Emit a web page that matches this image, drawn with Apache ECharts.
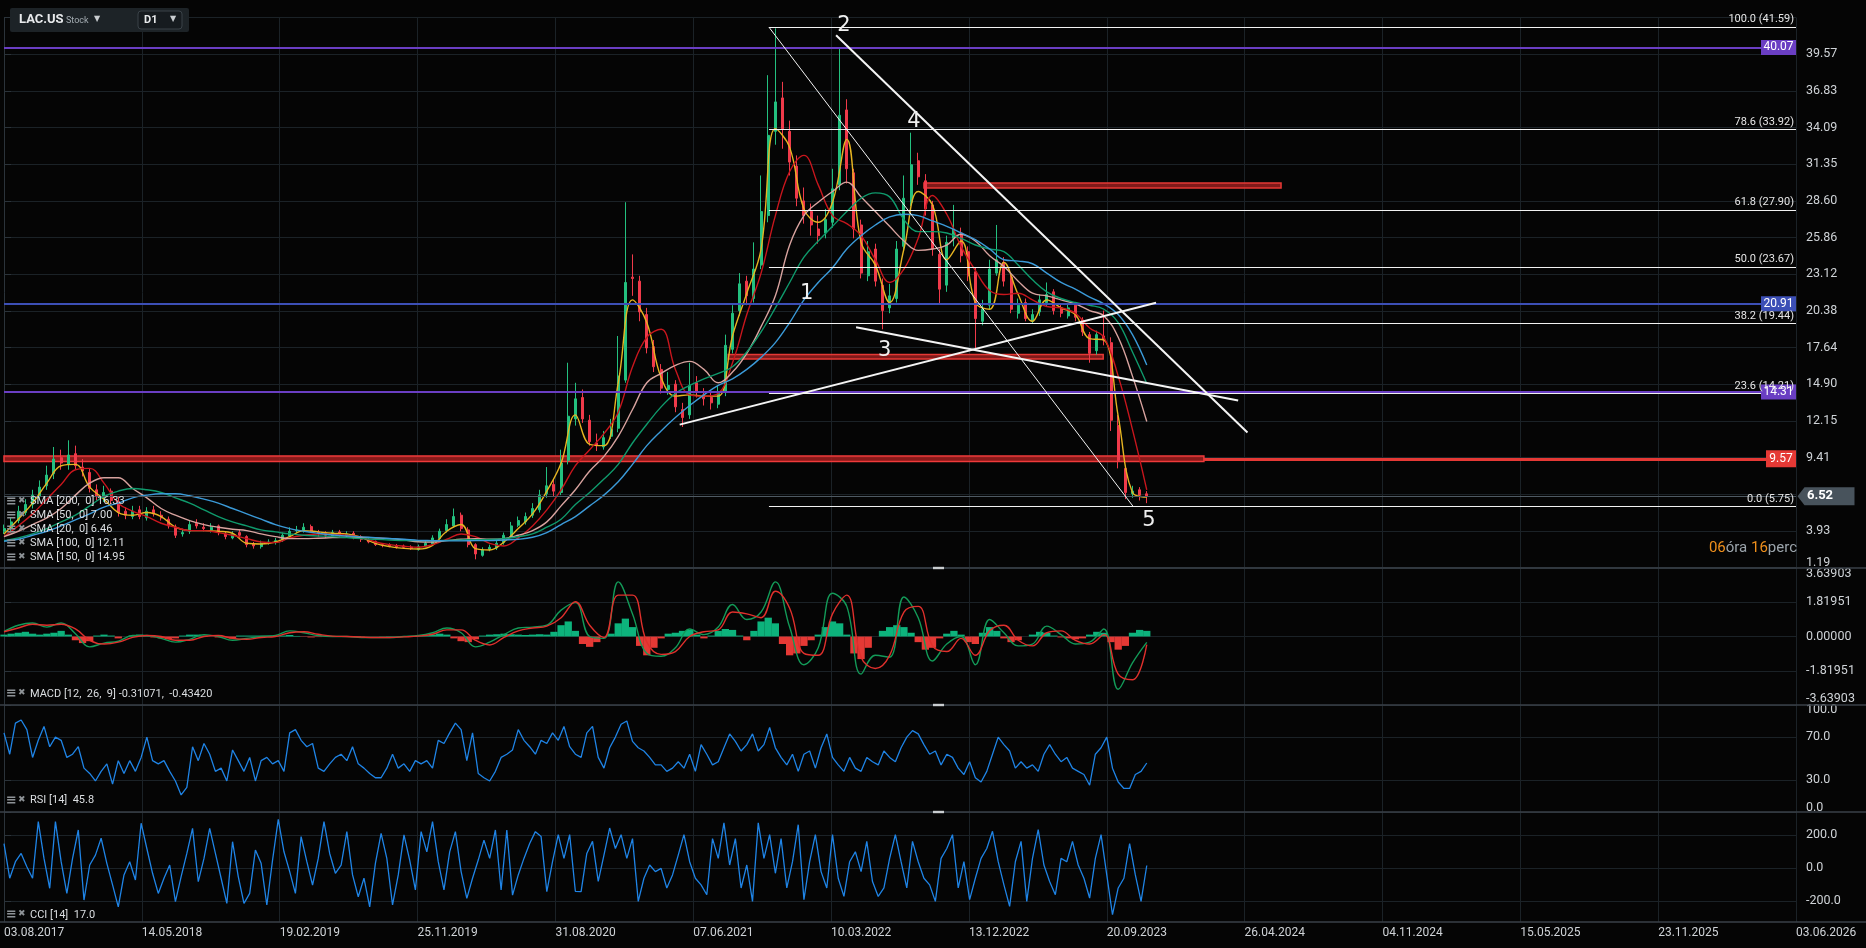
<!DOCTYPE html>
<html><head><meta charset="utf-8">
<script src="https://cdn.jsdelivr.net/npm/echarts@6/dist/echarts.min.js"></script>
<style>html,body{margin:0;padding:0;background:#050505;}#c{width:1866px;height:948px;}</style>
</head><body><div id="c"></div>
<script>
// ---------- DATA ----------
const dateLabels = ['03.08.2017','14.05.2018','19.02.2019','25.11.2019','31.08.2020','07.06.2021','10.03.2022','13.12.2022','20.09.2023','26.04.2024','04.11.2024','15.05.2025','23.11.2025','03.06.2026'];
const barsPerLabel = 193;
const candleStep = 10;
const opens = [3.9,4.1,4.7,5.3,5.9,6.5,7.3,8.2,9.4,8.9,9.7,8.7,8.3,7.0,6.4,6.9,6.1,5.4,5.0,5.5,
4.9,5.5,5.1,4.8,4.2,3.7,3.9,4.5,4.2,4.0,4.3,3.7,3.4,3.8,3.5,2.95,2.75,3.05,3.05,3.25,
3.55,3.95,3.95,4.25,3.85,3.75,3.55,3.85,3.55,3.75,3.45,3.25,3.15,2.9,2.9,2.8,2.8,2.72,2.55,2.8,
2.95,3.35,3.95,4.3,5.1,4.0,2.9,2.1,2.55,2.65,3.05,3.5,4.35,4.6,5.1,5.5,6.7,7.4,6.8,9.2,
12.3,13.9,12.2,10.5,10.2,11.0,11.6,15.2,22.9,22.6,20.1,17.7,16.0,14.5,14.9,13.0,12.6,15.0,14.1,13.9,
13.4,14.3,17.5,20.4,22.6,21.3,23.8,27.5,33.8,36.3,33.8,31.2,28.6,27.8,26.5,26.2,27.0,29.8,35.4,30.7,
26.8,23.0,25.0,22.3,20.6,21.3,25.2,28.5,31.6,30.1,28.3,24.6,22.3,25.8,26.2,24.8,23.3,19.6,20.8,23.2,
24.0,22.9,20.2,21.0,19.6,20.3,21.0,21.8,20.6,20.0,20.8,19.7,18.6,17.4,18.5,18.0,11.8,8.6,6.7,7.0,6.7];
const closes = [4.1,4.6,5.4,5.9,6.6,7.2,8.1,9.3,9.0,9.6,8.8,8.4,7.1,6.5,6.8,6.2,5.3,5.1,5.4,5.0,
5.4,5.2,4.9,4.3,3.6,3.8,4.4,4.3,4.1,4.2,3.8,3.5,3.7,3.6,2.9,2.8,3.0,3.1,3.2,3.6,
3.9,4.0,4.2,3.9,3.7,3.6,3.8,3.6,3.7,3.4,3.3,3.1,2.9,2.85,2.8,2.75,2.7,2.6,2.75,3.0,
3.4,3.9,4.4,5.0,4.1,2.9,2.2,2.5,2.7,3.0,3.6,4.3,4.7,5.0,5.6,6.6,7.3,6.9,9.0,12.5,
13.8,12.3,10.6,10.3,10.9,11.5,15.5,22.5,22.8,20.3,17.6,16.2,14.6,14.8,13.2,12.4,14.8,14.3,13.8,13.5,
14.2,17.8,20.2,22.4,21.5,23.5,27.8,33.5,36.0,34.0,31.5,28.8,27.5,26.8,26.0,27.2,29.5,35.0,31.0,26.5,
23.2,24.8,22.6,20.4,21.5,25.0,28.8,31.3,30.4,28.0,25.0,22.0,25.5,26.5,24.5,23.0,19.8,20.5,23.5,24.2,
22.6,20.5,20.8,19.8,20.1,21.2,21.6,20.4,20.2,20.6,19.9,18.8,17.2,18.6,18.2,12.2,9.2,6.8,6.9,6.6,6.52];
const highs = [4.4,4.9,5.8,6.3,7.0,7.7,8.8,10.2,10.0,10.7,10.3,9.3,8.6,7.4,7.3,7.1,6.5,5.7,5.8,5.8,
5.7,5.8,5.4,5.0,4.4,4.1,4.7,4.8,4.5,4.5,4.4,3.9,3.9,4.0,3.6,3.1,3.2,3.3,3.4,3.8,
4.2,4.3,4.5,4.4,4.0,3.9,4.0,4.0,3.9,3.9,3.6,3.4,3.2,3.0,3.0,2.95,2.9,2.85,2.9,3.2,
3.6,4.1,4.8,5.6,5.3,4.2,3.0,2.7,2.9,3.2,3.8,4.6,5.0,5.3,6.0,7.0,8.7,7.8,10.0,16.5,
15.0,14.5,12.6,11.2,11.4,12.3,18.5,28.5,24.6,23.0,20.6,18.2,16.4,15.8,15.2,13.5,16.5,15.5,14.6,14.4,
14.8,18.6,20.8,23.2,23.0,25.5,30.5,38.0,41.5,37.5,34.6,32.0,29.6,28.4,27.5,28.0,31.0,40.0,36.2,31.0,
27.2,25.6,25.4,22.8,22.4,25.6,30.5,33.7,32.2,30.6,28.6,25.0,26.0,28.3,26.6,25.2,23.6,21.2,24.2,26.8,
24.4,23.2,21.3,21.3,20.5,21.6,22.5,22.0,20.9,20.9,21.0,19.9,18.8,18.9,20.4,18.4,12.6,8.8,7.3,7.2,6.9];
const lows = [3.7,3.9,4.5,5.1,5.6,6.2,7.0,7.8,8.5,8.5,8.5,8.0,6.8,6.2,6.1,5.9,5.0,4.8,4.8,4.8,
4.7,5.0,4.7,4.1,3.4,3.5,3.7,4.1,3.9,3.8,3.6,3.3,3.3,3.4,2.7,2.6,2.6,2.9,2.9,3.1,
3.4,3.8,3.8,3.8,3.5,3.4,3.4,3.5,3.4,3.3,3.1,3.0,2.8,2.7,2.7,2.6,2.6,2.5,2.45,2.7,
2.8,3.2,3.8,4.2,3.9,2.7,1.8,2.0,2.4,2.5,2.9,3.4,4.2,4.4,4.9,5.3,6.4,6.5,6.6,8.9,
11.8,12.0,10.3,9.9,10.0,10.8,11.3,15.0,21.5,19.6,17.2,15.8,14.2,14.1,12.8,11.7,12.3,13.9,13.3,13.0,
13.1,14.0,17.2,20.0,20.8,21.0,23.5,27.0,32.8,32.5,30.5,28.2,26.9,26.0,25.4,25.8,26.6,29.4,29.9,25.8,
22.8,22.6,22.2,19.0,20.2,21.0,24.8,28.2,29.8,27.5,24.5,20.9,21.8,25.2,24.0,22.6,17.4,19.3,20.5,23.0,
22.2,20.2,19.8,19.6,19.4,20.0,20.7,20.1,19.9,19.8,19.6,18.5,16.5,17.1,17.8,11.4,8.6,6.3,6.4,6.2,6.0];

const smaStep = 20;
const sma20 = [3.7,4.8,6.0,7.5,8.8,8.9,7.2,6.3,5.3,5.1,
5.3,5.0,4.2,3.95,3.95,3.9,3.75,3.0,2.95,3.1,
3.5,3.95,3.85,3.75,3.7,3.45,3.0,2.75,2.62,2.57,
2.85,3.9,4.4,2.6,2.5,3.1,4.1,5.2,6.9,9.0,
12.6,10.4,10.3,15.0,21.2,19.5,15.4,14.0,14.1,14.0,
14.0,18.5,21.7,25.0,34.0,32.6,28.0,27.0,28.5,33.2,
25.5,23.8,21.0,25.0,29.3,28.3,24.2,25.6,21.0,20.5,
24.0,21.6,19.6,21.2,20.6,20.1,18.3,18.2,12.5,6.8,
6.46];
const sma50 = [3.5,4.3,5.2,6.3,7.4,8.5,8.6,7.5,6.0,5.4,
5.0,4.5,4.2,3.95,3.95,3.8,3.6,3.35,3.1,3.05,
3.4,3.6,3.7,3.65,3.6,3.45,3.1,2.9,2.78,2.7,
2.9,3.3,3.7,3.5,3.0,2.8,3.4,4.3,5.5,7.0,
8.8,10.0,11.2,12.8,16.2,18.4,19.0,16.0,14.1,14.0,
14.2,16.5,20.1,23.2,27.5,30.8,32.0,29.8,27.5,26.9,
26.0,24.2,22.5,23.5,25.8,29.0,27.6,25.2,23.4,21.9,
21.6,21.7,21.2,20.7,20.6,20.2,19.1,18.4,15.5,11.5,
7.00];
const sma100 = [3.5,3.9,4.4,4.9,5.6,6.6,7.5,7.9,7.9,7.1,
6.4,5.6,5.1,4.7,4.4,4.2,4.05,3.95,3.7,3.5,
3.35,3.35,3.38,3.42,3.45,3.45,3.4,3.35,3.25,3.12,
3.1,3.2,3.3,3.35,3.3,3.35,3.6,3.95,4.6,5.8,
7.0,8.4,9.5,11.0,13.0,15.0,15.7,16.3,16.6,16.0,
15.0,15.8,17.2,19.2,21.5,25.3,27.5,28.5,29.3,30.0,
28.9,27.8,26.7,25.6,24.9,25.0,25.3,26.1,25.6,24.5,
23.7,22.6,21.7,21.5,21.2,20.9,20.4,20.0,18.4,15.5,
12.11];
const sma150 = [3.2,3.4,3.7,4.1,4.6,5.1,5.8,6.5,6.9,7.1,
7.0,6.8,6.4,6.0,5.5,5.0,4.6,4.3,4.0,3.85,
3.7,3.6,3.55,3.5,3.42,3.35,3.3,3.25,3.2,3.2,
3.2,3.22,3.25,3.27,3.28,3.35,3.5,3.7,4.2,4.8,
5.9,6.8,7.8,8.9,10.5,11.9,13.2,14.2,14.8,15.3,
15.7,16.2,17.3,18.8,20.6,22.5,24.4,25.6,26.7,27.8,
28.8,29.2,28.9,27.2,26.3,26.3,26.2,25.8,25.3,25.0,
24.8,23.8,22.7,21.8,21.3,21.0,20.8,20.5,19.5,17.3,
14.95];
const sma200 = [3.15,3.3,3.6,3.9,4.3,4.75,5.2,5.7,6.0,6.4,
6.6,6.7,6.7,6.55,6.3,6.0,5.6,5.2,4.8,4.4,
4.1,3.9,3.75,3.62,3.55,3.48,3.42,3.36,3.3,3.22,
3.2,3.18,3.18,3.2,3.2,3.25,3.3,3.45,3.8,4.4,
5.0,5.8,6.6,7.6,8.9,10.3,11.4,12.4,13.3,14.1,
14.8,15.3,16.0,16.9,18.0,19.5,21.2,22.5,23.6,25.0,
26.0,26.8,27.4,27.6,27.5,27.1,26.7,26.2,25.7,25.0,
24.2,24.1,23.9,23.2,22.5,22.0,21.4,20.9,20.1,18.6,
16.33];

const macdStep = 20;
const macdLine = [0.27,0.6,0.72,0.5,0.72,0.15,-0.55,-0.35,-0.25,0.05,
0.05,-0.1,-0.3,-0.15,0.1,0.0,-0.2,-0.1,0.0,0.05,
0.3,0.2,0.05,0.0,0.0,-0.05,-0.05,-0.05,0.0,0.05,
0.2,0.45,0.2,-0.55,-0.3,0.1,0.45,0.5,0.6,1.4,
1.8,0.0,-0.1,2.9,1.2,-0.9,-1.05,-0.6,0.4,0.1,
0.5,1.7,0.9,1.3,2.9,0.5,-1.5,-0.6,2.3,1.6,
-2.0,-1.0,-1.1,2.1,1.0,-1.3,-0.4,0.0,-1.5,0.9,
0.2,-0.5,-0.4,0.55,0.1,-0.4,-0.3,0.4,-2.8,-1.4,
-0.31071];
const macdSignal = [0.25,0.45,0.65,0.6,0.65,0.4,-0.2,-0.4,-0.3,-0.05,
0.05,0.0,-0.2,-0.2,0.0,0.05,-0.1,-0.15,-0.05,0.0,
0.2,0.25,0.12,0.02,0.0,-0.03,-0.05,-0.05,-0.02,0.02,
0.12,0.35,0.35,-0.2,-0.45,-0.05,0.3,0.45,0.55,1.0,
1.85,0.6,-0.05,2.2,2.2,-0.3,-0.95,-0.8,0.0,0.25,
0.35,1.3,1.2,1.0,2.4,1.5,-0.9,-1.0,1.2,2.2,
-1.1,-1.7,-1.0,1.3,1.6,-0.5,-0.8,-0.1,-1.0,0.3,
0.6,-0.2,-0.5,0.2,0.3,-0.2,-0.4,0.1,-2.0,-2.3,
-0.43420];
const macdHist = [0.1,0.15,0.2,0.25,0.15,0.1,0.15,0.2,0.3,0.1,
-0.2,-0.35,-0.25,0.05,0.1,0.05,-0.1,0.0,0.05,0.1,
0.05,-0.05,-0.1,-0.15,-0.1,0.05,0.1,0.1,0.05,0.0,
-0.05,-0.05,-0.1,0.05,0.05,0.05,0.05,0.05,0.03,0.05,
0.08,0.03,-0.02,-0.05,-0.03,-0.02,0.0,0.02,0.0,-0.02,
-0.02,0.0,0.0,0.01,0.02,0.02,0.03,0.03,0.03,0.06,
0.1,0.15,0.1,-0.1,-0.25,-0.3,-0.15,0.05,0.1,0.12,
0.15,0.12,0.1,0.08,0.1,0.12,0.1,0.25,0.6,0.8,
0.3,-0.4,-0.55,-0.3,0.0,0.15,0.7,0.95,0.5,-0.5,
-1.0,-0.6,-0.1,0.15,0.2,0.3,0.35,0.1,-0.1,0.05,
0.3,0.4,0.35,0.05,-0.2,0.3,0.8,1.0,0.7,-0.4,
-1.0,-0.9,-0.5,-0.2,0.1,0.5,0.8,0.7,0.1,-0.9,
-1.2,-0.6,0.0,0.3,0.5,0.6,0.5,0.2,-0.3,-0.7,
-0.6,-0.1,0.15,0.3,0.1,-0.3,-0.4,0.2,0.5,0.3,
-0.1,-0.3,-0.2,0.0,0.1,0.25,0.2,0.05,-0.05,-0.1,
-0.15,-0.1,0.1,0.25,0.2,-0.3,-0.7,-0.5,0.2,0.35,
0.3];

const oscStep = 8;
const rsi = [74,54,83,86,77,51,67,80,61,70,67,51,54,61,41,36,29,38,45,26,48,36,48,38,51,70,48,45,48,38,29,16,23,61,48,64,54,38,41,29,58,48,38,51,29,48,51,45,48,38,74,77,67,61,64,41,38,45,51,54,48,61,45,41,36,32,32,41,54,41,45,38,48,45,48,41,67,64,74,83,77,48,74,36,32,29,38,51,54,58,77,67,61,54,67,64,74,67,80,61,54,51,74,80,51,
41,60,70,
82,85,66,60,57,51,44,
44,38,41,47,41,54,38,
63,54,44,47,60,73,66,
57,63,73,57,63,79,60,
51,44,54,38,54,57,41,
60,73,51,44,38,51,41,
38,51,47,44,57,51,47,
60,70,76,73,63,54,57,
44,54,51,41,35,47,32,
28,38,54,70,63,57,41,
47,41,44,38,54,63,54,
47,51,41,38,35,25,
54,60,70,41,28,22,22,
35,38,45.8];
const cci = [150,-60,40,90,10,-60,283,60,-121,283,
40,-152,60,232,-192,20,80,182,30,-100,
-233,-40,40,-71,273,120,-30,-152,-60,20,
-202,-50,90,242,-81,60,242,90,-60,-212,
161,-50,-212,-152,111,30,-222,50,297,100,
-20,-152,192,40,-101,60,283,90,-30,20,
222,-40,-172,-60,-233,30,212,60,-222,-40,
202,50,-131,222,100,283,40,-131,100,222,
-20,-182,-60,50,171,60,232,-131,232,-162,
-40,60,150,222,192,-141,40,204,60,204,
-140,-141,90,163,-79,80,244,120,204,60,
180,-200,-60,20,-20,0,-119,-40,80,204,
40,-60,-100,-160,180,60,275,20,180,-119,
20,-200,275,60,204,-30,180,-119,40,264,
-190,40,204,-20,-119,204,-60,-170,40,100,
-20,163,-80,-170,-119,60,204,40,-119,163,
40,-60,-100,-200,60,120,204,-119,40,-190,
-60,60,120,224,40,-100,-230,40,163,-200,
60,234,20,-80,-160,60,40,163,20,-60,
-180,60,204,-40,-281,-119,-60,150,-40,-200,
17];

const priceTickLabels = ['1.19','3.93','6.67','9.41','12.15','14.90','17.64','20.38','23.12','25.86','28.60','31.35','34.09','36.83','39.57',''];
const macdTickLabels = ['-3.63903','-1.81951','0.00000','1.81951','3.63903'];
const rsiTicks = [0,30,70,100];
const cciTicks = [-200,0,200];

const levelValues = [40.07, 20.91, 14.31];
const redLevel = 9.57;
const lastPrice = 6.52;
const fibRatios = ['100.0','78.6','61.8','50.0','38.2','23.6','0.0'];
const fibPrices = [41.59, 33.92, 27.90, 23.67, 19.44, 14.21, 5.75];
const fibStart = 1071;
const trendLines = [[[1071,41.59],[1581,5.75]], [[1165,40.98],[1741,11.28]], [[946,11.87],[1613,20.98]], [[1193,19.16],[1728,13.67]]];
const zones = [[1288,29.57,1788,29.94],[1014,16.77,1539,17.12]];
const redBand = [0,9.11,1680,9.53];
const waveLabels = [['1',1124,21.66],['2',1176,41.68],['3',1233,17.39],['4',1274,34.5],['5',1603,4.70]];

// ---------- CHART ----------
const xMax = barsPerLabel * (dateLabels.length - 1);
const pMin = 1.19, pInt = 2.7414, pMax = pMin + pInt * 15;
const macdR = 3.63903;
const GRID_C = '#1b2227', AX_C = '#2b333a', LBL_C = '#cfd3d7';
const FONT = 'Roboto';
const lvlColors = ['#6a3ec3','#3c4fb6','#6a3ec3'];

const candleData = closes.map((c,i)=>[i*candleStep, opens[i], c, lows[i], highs[i]]);
const pts = (arr, step)=>arr.map((v,i)=>[i*step, v]);

function xAxisFor(i){
  return {type:'value', gridIndex:i, min:0, max:xMax, interval:barsPerLabel,
    axisLine:{show:false}, axisTick:{show:false},
    axisLabel:{show:i===3, color:LBL_C, fontFamily:FONT, fontSize:12, align:'left', margin:5,
      formatter:v=>dateLabels[Math.round(v/barsPerLabel)]||''},
    splitLine:{show:true, lineStyle:{color:GRID_C, width:1}}};
}
const yCommon = {position:'right', axisLine:{show:true, lineStyle:{color:AX_C}},
  axisTick:{show:true, length:7, lineStyle:{color:AX_C}},
  splitLine:{show:true, lineStyle:{color:GRID_C, width:1}}};
const lblBase = {color:LBL_C, fontFamily:FONT, fontSize:12.5, margin:10,
  rich:{b:{padding:[0,0,9,0]}, t:{padding:[12,0,0,0]}, bb:{padding:[0,0,12,0]}, t2:{padding:[10,0,0,0]}, b2:{padding:[0,0,8,0]}}};

const solid = (color, width)=>({color, width, type:'solid'});
const markLineData = [];
levelValues.forEach((v,i)=>markLineData.push({yAxis:v, lineStyle:solid(lvlColors[i],2), label:{show:false}}));
markLineData.push({yAxis:lastPrice, lineStyle:solid('#4f5a63',1), label:{show:false}});
markLineData.push([{coord:[redBand[2], (redBand[1]+redBand[3])/2], lineStyle:solid('#e53935',3), label:{show:false}}, {coord:[xMax, (redBand[1]+redBand[3])/2]}]);
fibPrices.forEach((p,i)=>markLineData.push([{coord:[fibStart,p], lineStyle:solid('#f2f2f2',1.2),
  label:{show:true, position:'insideEndTop', distance:[2,2], color:'#e6e6e6', fontSize:11, fontFamily:FONT,
    formatter: fibRatios[i]+' ('+p.toFixed(2)+')'}}, {coord:[xMax,p]}]));
trendLines.forEach((t,i)=>markLineData.push([{coord:t[0], lineStyle:solid('#f4f4f4', i===0?1:2), label:{show:false}}, {coord:t[1]}]));

const markAreaData = zones.map(z=>[{coord:[z[0],z[1]], itemStyle:{color:'rgba(150,30,30,0.85)', borderColor:'#e53935', borderWidth:1.5}}, {coord:[z[2],z[3]]}]);
markAreaData.push([{coord:[redBand[0],redBand[1]], itemStyle:{color:'rgba(170,30,30,0.8)', borderColor:'#ef3b3b', borderWidth:1.5}}, {coord:[redBand[2],redBand[3]]}]);

const markPointData = [];
levelValues.forEach((v,i)=>markPointData.push({coord:[xMax,v], symbol:'rect', symbolSize:[35,15], symbolOffset:[-17.5,0],
  itemStyle:{color:lvlColors[i]}, label:{show:true, position:'inside', color:'#fff', fontSize:12, fontFamily:FONT, formatter:v.toFixed(2)}}));
markPointData.push({coord:[xMax,(redBand[1]+redBand[3])/2], symbol:'rect', symbolSize:[30,17], symbolOffset:[-15,0],
  itemStyle:{color:'#e53935'}, label:{show:true, position:'inside', color:'#fff', fontSize:12, fontFamily:FONT, formatter:redLevel.toFixed(2)}});
markPointData.push({coord:[xMax,lastPrice], symbol:'path://M0,9L7,0L57,0L57,18L7,18Z', symbolKeepAspect:false, symbolSize:[57,18], symbolOffset:[30,0],
  itemStyle:{color:'#48535c'}, label:{show:true, position:'inside', offset:[-6,0], color:'#fff', fontSize:13, fontWeight:'bold', fontFamily:FONT, formatter:lastPrice.toFixed(2)}});
waveLabels.forEach(w=>markPointData.push({coord:[w[1],w[2]], symbol:'circle', symbolSize:1, itemStyle:{color:'rgba(0,0,0,0)'},
  label:{show:true, position:'inside', color:'#f0f0f0', fontSize:21, fontFamily:'DejaVu Sans', formatter:w[0]}}));

const smaDefs = [[sma20,'#e6b422'],[sma50,'#c8161d'],[sma100,'#d8a39f'],[sma150,'#0f9a6c'],[sma200,'#3b9ad8']];

const option = {
  backgroundColor:'#050505', animation:false,
  grid:[
    {left:4, right:70, top:17.5, height:550},
    {left:4, right:70, top:568, height:137},
    {left:4, right:70, top:705, height:107},
    {left:4, right:70, top:812, height:110}
  ],
  xAxis:[xAxisFor(0),xAxisFor(1),xAxisFor(2),xAxisFor(3)],
  yAxis:[
    Object.assign({}, yCommon, {type:'value', gridIndex:0, min:pMin, max:pMax, interval:pInt,
      axisLabel:Object.assign({}, lblBase, {formatter:v=>{const n=Math.round((v-pMin)/pInt); const s=priceTickLabels[n]||''; return n===0?'{b|'+s+'}':s;}})}),
    Object.assign({}, yCommon, {type:'value', gridIndex:1, min:-macdR, max:macdR, interval:macdR/2,
      axisLabel:Object.assign({}, lblBase, {formatter:v=>{const n=Math.round((v+macdR)/(macdR/2)); const s=macdTickLabels[n]; return n===4?'{t|'+s+'}':(n===0?'{bb|'+s+'}':s);}})}),
    Object.assign({}, yCommon, {type:'value', gridIndex:2, min:0, max:100,
      axisTick:{show:true, length:7, lineStyle:{color:AX_C}, customValues:rsiTicks},
      axisLabel:Object.assign({}, lblBase, {customValues:rsiTicks, formatter:v=>{const s=v.toFixed(1); return v===100?'{t2|'+s+'}':(v===0?'{b2|'+s+'}':s);}})}),
    Object.assign({}, yCommon, {type:'value', gridIndex:3, min:-325, max:341,
      axisTick:{show:true, length:7, lineStyle:{color:AX_C}, customValues:cciTicks},
      axisLabel:Object.assign({}, lblBase, {customValues:cciTicks, formatter:v=>v.toFixed(1)})})
  ],
  series:[
    {type:'candlestick', xAxisIndex:0, yAxisIndex:0, data:candleData, barWidth:2.5, z:2,
      itemStyle:{color:'#23c07f', color0:'#f03a4a', borderColor:'#23c07f', borderColor0:'#f03a4a', borderWidth:1},
      markArea:{silent:true, data:markAreaData, z:1},
      markLine:{silent:true, symbol:['none','none'], animation:false, lineStyle:{type:'solid'}, data:markLineData},
      markPoint:{silent:true, animation:false, data:markPointData}},
    ...smaDefs.map(d=>({type:'line', xAxisIndex:0, yAxisIndex:0, data:pts(d[0],smaStep), showSymbol:false, smooth:0.4, z:3,
      lineStyle:{color:d[1], width:1.4}, silent:true})),
    {type:'bar', xAxisIndex:1, yAxisIndex:1, data:pts(macdHist,candleStep), barWidth:7.3, silent:true,
      itemStyle:{color:p=>p.value[1]>=0?'#0db37c':'#e53935'}},
    {type:'line', xAxisIndex:1, yAxisIndex:1, data:pts(macdLine,macdStep), showSymbol:false, smooth:0.4, lineStyle:{color:'#139a58', width:1.4}, silent:true},
    {type:'line', xAxisIndex:1, yAxisIndex:1, data:pts(macdSignal,macdStep), showSymbol:false, smooth:0.4, lineStyle:{color:'#e0302c', width:1.4}, silent:true},
    {type:'line', xAxisIndex:2, yAxisIndex:2, data:pts(rsi,oscStep), showSymbol:false, lineStyle:{color:'#1f84e6', width:1.3}, silent:true},
    {type:'line', xAxisIndex:3, yAxisIndex:3, data:pts(cci,oscStep), showSymbol:false, lineStyle:{color:'#1f84e6', width:1.3}, silent:true}
  ],
  graphic:[]
};

// decorations
const g = option.graphic;
[568,705,812,922].forEach(y=>g.push({type:'line', silent:true, shape:{x1:0,y1:y,x2:1866,y2:y}, style:{stroke:'#3a4148', lineWidth:1.5}, z:50}));
[568,705,812].forEach(y=>g.push({type:'rect', silent:true, shape:{x:933,y:y-1.2,width:11,height:2.4}, style:{fill:'#c9cdd0'}, z:51}));
g.push({type:'rect', silent:true, shape:{x:10,y:8,width:179,height:24,r:2}, style:{fill:'#1d2327'}, z:60});
g.push({type:'text', silent:true, x:19, y:20, style:{text:'LAC.US', fill:'#e8eaec', font:'bold 13px Roboto', verticalAlign:'middle'}, z:61});
g.push({type:'text', silent:true, x:66, y:21, style:{text:'Stock', fill:'#a3abb1', font:'9px Roboto', verticalAlign:'middle'}, z:61});
g.push({type:'text', silent:true, x:94, y:19, style:{text:'▼', fill:'#c9cdd0', font:'8px DejaVu Sans', verticalAlign:'middle'}, z:61});
g.push({type:'rect', silent:true, shape:{x:138,y:11,width:44,height:18,r:3}, style:{fill:'#161b1f', stroke:'#3a4248', lineWidth:1}, z:61});
g.push({type:'text', silent:true, x:144, y:20, style:{text:'D1', fill:'#e8eaec', font:'bold 11px Roboto', verticalAlign:'middle'}, z:62});
g.push({type:'text', silent:true, x:170, y:19, style:{text:'▼', fill:'#c9cdd0', font:'8px DejaVu Sans', verticalAlign:'middle'}, z:62});
g.push({type:'text', silent:true, x:1797, y:548, style:{text:'{o|06}{g|óra }{o|16}{g|perc}', align:'right', verticalAlign:'middle',
  rich:{o:{fill:'#f0901c', font:'15px Roboto'}, g:{fill:'#9ba4ab', font:'15px Roboto'}}}, z:62});

const legendRows = [['SMA [200,  0] 16.33',501.5],['SMA [50,  0] 7.00',515.5],['SMA [20,  0] 6.46',529.5],['SMA [100,  0] 12.11',543.5],['SMA [150,  0] 14.95',557.5],
  ['MACD [12,  26,  9] -0.31071,  -0.43420',694],['RSI [14]  45.8',800.5],['CCI [14]  17.0',915]];
legendRows.forEach(r=>{
  g.push({type:'text', silent:true, x:6, y:r[1], style:{text:'≡', fill:'#8d9296', font:'bold 13px DejaVu Sans', verticalAlign:'middle'}, z:61});
  g.push({type:'text', silent:true, x:18, y:r[1]-1, style:{text:'✖', fill:'#8d9296', font:'9px DejaVu Sans', verticalAlign:'middle'}, z:61});
  g.push({type:'text', silent:true, x:30, y:r[1], style:{text:r[0], fill:'#dcdfe2', font:'11px Roboto', verticalAlign:'middle'}, z:61});
});

echarts.init(document.getElementById('c')).setOption(option);
</script></body></html>
